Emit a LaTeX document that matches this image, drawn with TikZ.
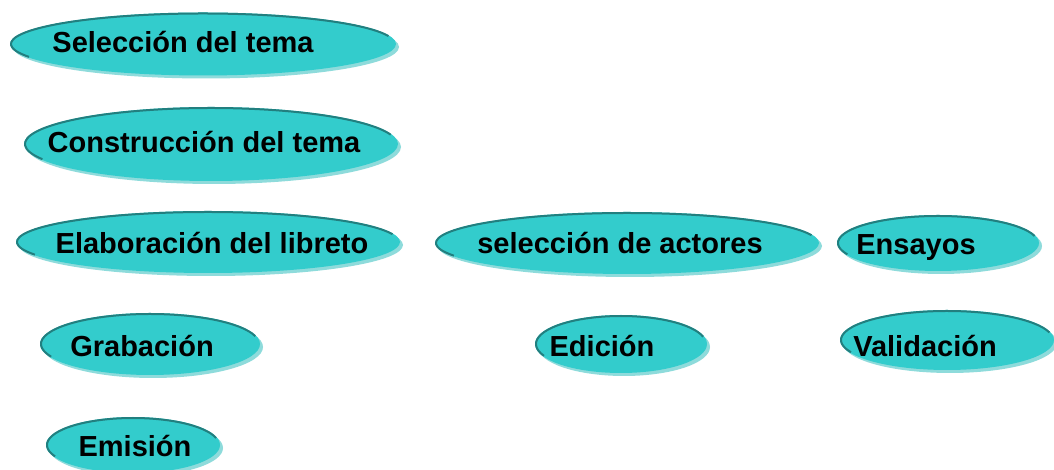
\documentclass[tikz,border=0pt]{standalone}
\usepackage{fontspec}
\setmainfont{Liberation Sans}
\usetikzlibrary{shapes.geometric}
\definecolor{blobfill}{HTML}{33CCCC}
\definecolor{blobrim}{HTML}{227F7F}
\definecolor{blobshade}{HTML}{8EDBDB}
\tikzset{
  blobshape/.style={ellipse, fill=blobfill, inner sep=0pt, outer sep=0pt},
  blobrimline/.style={draw=blobrim, line width=2pt},
  blobshadow/.style={fill=blobshade},
  lbl/.style={font=\fontsize{29}{34}\selectfont\bfseries, text=black, inner sep=0pt, anchor=base},
}
% #1 name, #2 cx, #3 cy, #4 rx, #5 ry, #6 text, #7 tx, #8 baseline y
\newcommand\myblob[8]{%
  \fill[blobshadow] (#2+3,#3-3) ellipse [x radius=#4, y radius=#5];
  \node[blobshape, minimum width={2*#4pt}, minimum height={2*#5pt}] (#1) at (#2,#3) {};
  \draw[blobrimline] ([shift={(205:#4-1 and #5-1)}]#1.center) arc[start angle=205, end angle=15, x radius=#4-1, y radius=#5-1];
  \node[lbl] (#1t) at (#7,#8) {#6};
}
\begin{document}
\begin{tikzpicture}[x=1pt,y=1pt]
\useasboundingbox (0,0) rectangle (1054,470);
\myblob{sel}{203}{426}{193}{31.5}{Selección del tema}{183}{417}
\myblob{con}{211}{326}{187}{37}{Construcción del tema}{204}{317}
\myblob{ela}{208}{228}{192}{31}{Elaboración del libreto}{212}{216}
\myblob{act}{627}{227}{192}{31}{selección de actores}{620}{216}
\myblob{ens}{938}{227}{101}{28}{Ensayos}{916}{215}
\myblob{gra}{150}{126}{110}{31}{Grabación}{142}{113}
\myblob{edi}{621}{126}{86}{29}{Edición}{602}{113}
\myblob{val}{947}{130}{107}{30}{Validación}{925}{113}
\myblob{emi}{133}{25}{87}{28}{Emisión}{135}{13}
\end{tikzpicture}
\end{document}
